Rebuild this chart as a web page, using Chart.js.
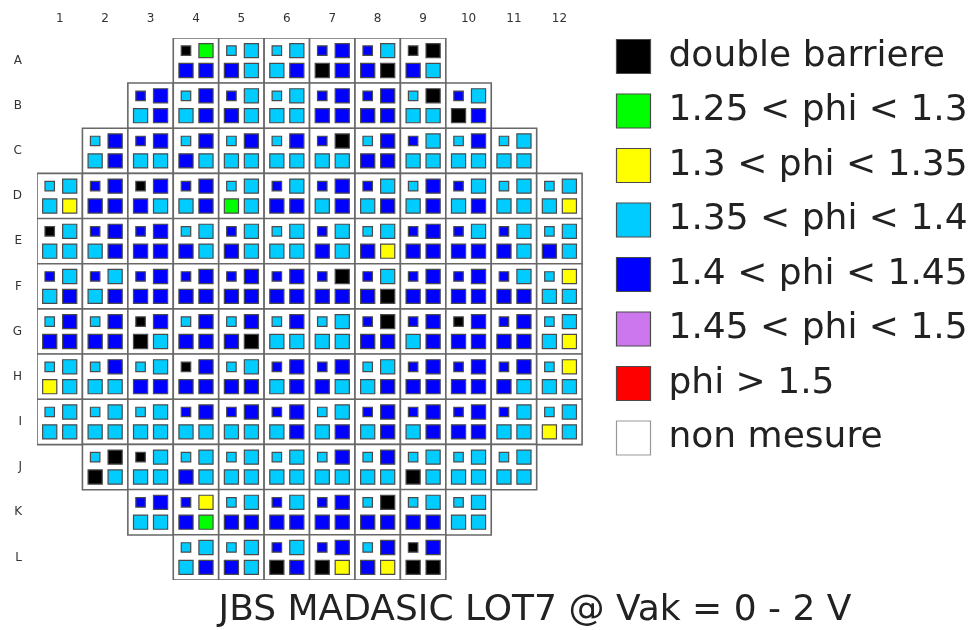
<!DOCTYPE html>
<html>
<head>
<meta charset="utf-8">
<script src="https://cdn.jsdelivr.net/npm/chart.js@4/dist/chart.umd.min.js"></script>
<style>
  html, body { margin: 0; padding: 0; background: #fff; }
  #wrap { width: 973px; height: 630px; }
</style>
</head>
<body>
<div id="wrap"><canvas id="c" width="973" height="630"></canvas></div>
<script>
// Wafer map: columns 1-12, rows A-L.
const colLabels = [1, 2, 3, 4, 5, 6, 7, 8, 9, 10, 11, 12];
const rowLabels = ['A', 'B', 'C', 'D', 'E', 'F', 'G', 'H', 'I', 'J', 'K', 'L'];
// first populated column of each row
const rowStart = [4, 3, 2, 1, 1, 1, 1, 1, 1, 2, 3, 4];

// Each string is one reticle: top-left (small die), top-right, bottom-left, bottom-right.
// K double barriere, G 1.25-1.3, Y 1.3-1.35, C 1.35-1.4, B 1.4-1.45, P 1.45-1.5, R >1.5, N non mesure
const rowA = ['KGBB', 'CCBC', 'CCCB', 'BBKB', 'BCBK', 'KKBC'];
const rowB = ['BBCB', 'CBCB', 'BCBC', 'CCCC', 'BBBB', 'BBBB', 'CKCC', 'BCKB'];
const rowC = ['CBCB', 'BBCC', 'CBBC', 'CBCC', 'CBCC', 'BKCC', 'CBBB', 'BCCC', 'CBCC', 'CCCC'];
const rowD = ['CCCY', 'BBBB', 'KBBC', 'BBCB', 'CCGC', 'BCBB', 'BBCB', 'BCCB', 'CBCB', 'BCCB', 'CCCC', 'CCCY'];
const rowE = ['KCCC', 'BBCB', 'BBBB', 'CCBC', 'BCBC', 'CCCC', 'BCBC', 'CCBY', 'BBBB', 'BCBB', 'BCBC', 'CCBC'];
const rowF = ['BCCB', 'BCCB', 'BBBB', 'BBBB', 'BBBB', 'BBBB', 'BKBB', 'BCBK', 'BBBB', 'BBBB', 'BCBB', 'CYCC'];
const rowG = ['CBBB', 'CBBB', 'KBKC', 'CBBB', 'CBBK', 'CBCC', 'CCCC', 'BKBB', 'BBCB', 'KBBB', 'BBBB', 'CCCY'];
const rowH = ['CCYC', 'CBCC', 'CCBB', 'KBBB', 'CCBB', 'BBCB', 'BBBC', 'CCCB', 'BBBB', 'BBBB', 'BBBC', 'CYCC'];
const rowI = ['CCCC', 'CCCC', 'CCCC', 'BBCC', 'BBCC', 'BBCB', 'CCCB', 'BBCB', 'BBCB', 'BBBB', 'BCCC', 'CCYC'];
const rowJ = ['CKKC', 'KCCC', 'CCBC', 'CCCC', 'CCCC', 'CBCC', 'CBCC', 'CCKC', 'CCCC', 'CCCC'];
const rowK = ['BBCC', 'BYBG', 'CCBB', 'BCBB', 'BBBB', 'CKBB', 'CCBB', 'CCCC'];
const rowL = ['CCCB', 'CCBC', 'BCKB', 'BBKY', 'CBBY', 'KBKK'];
const dieRows = [rowA, rowB, rowC, rowD, rowE, rowF, rowG, rowH, rowI, rowJ, rowK, rowL];

const categoryCodes = ['K', 'G', 'Y', 'C', 'B', 'P', 'R', 'N'];
const categoryNames = ['double barriere', '1.25 < phi < 1.3', '1.3 < phi < 1.35', '1.35 < phi < 1.4',
                       '1.4 < phi < 1.45', '1.45 < phi < 1.5', 'phi > 1.5', 'non mesure'];
const categoryColors = ['#000000', '#00ff00', '#ffff00', '#00ccff', '#0000ff', '#cc77ee', '#ff0000', '#ffffff'];

const chartTitle = 'JBS MADASIC LOT7 @ Vak = 0 - 2 V';

// die offsets inside a reticle, in axis units
const SUB = 0.22;
const quadrants = [[-SUB, -SUB, true], [SUB, -SUB, false], [-SUB, SUB, false], [SUB, SUB, false]];

const cellPoints = [];
const diePoints = categoryCodes.map(() => []);
dieRows.forEach((cells, r) => {
  cells.forEach((code, j) => {
    const col = rowStart[r] + j;
    const row = r + 1;
    cellPoints.push({ x: col, y: row });
    [...code].forEach((ch, q) => {
      const [dx, dy, small] = quadrants[q];
      diePoints[categoryCodes.indexOf(ch)].push({ x: col + dx, y: row + dy, small });
    });
  });
});

const dieDatasets = categoryCodes.map((code, k) => ({
  label: categoryNames[k],
  data: diePoints[k],
  pointStyle: 'rect',
  pointRadius: ctx => (ctx.raw && ctx.raw.small) ? 6.7 : 10,
  backgroundColor: categoryColors[k],
  borderColor: code === 'N' ? '#999999' : '#4a4a4a',
  borderWidth: 1.2,
  order: 0
}));

const cellDataset = {
  label: 'reticle',
  data: cellPoints,
  pointStyle: 'rect',
  // square side equals one axis unit
  pointRadius: ctx => {
    const s = ctx.chart.scales.x;
    return Math.abs(s.getPixelForValue(1) - s.getPixelForValue(0)) * Math.SQRT1_2;
  },
  backgroundColor: '#ffffff',
  borderColor: '#686868',
  borderWidth: 1.6,
  order: 1
};

const bottomTitle = {
  id: 'bottomTitle',
  afterDraw(chart) {
    const { ctx } = chart;
    ctx.save();
    ctx.font = '36px "DejaVu Sans"';
    ctx.fillStyle = '#222222';
    ctx.textAlign = 'center';
    ctx.textBaseline = 'middle';
    ctx.fillText(chartTitle, 535, 611);
    ctx.restore();
  }
};

new Chart(document.getElementById('c'), {
  type: 'scatter',
  data: { datasets: [...dieDatasets, cellDataset] },
  plugins: [bottomTitle],
  options: {
    responsive: false,
    animation: false,
    events: [],
    layout: { padding: { top: 0, bottom: 50, left: 0, right: 0 } },
    scales: {
      x: {
        type: 'linear',
        position: 'top',
        min: 0.5,
        max: 12.85,
        afterFit: s => { s.height = 38; },
        afterBuildTicks: s => { s.ticks = colLabels.map(v => ({ value: v })); },
        grid: { display: false, drawTicks: false },
        border: { display: false },
        ticks: {
          padding: 12,
          color: '#333333',
          font: { family: 'DejaVu Sans', size: 12 },
          callback: v => String(v)
        }
      },
      y: {
        type: 'linear',
        reverse: true,
        min: 0.5,
        max: 12.5,
        afterFit: s => { s.width = 37; },
        afterBuildTicks: s => { s.ticks = rowLabels.map((_, i) => ({ value: i + 1 })); },
        grid: { display: false, drawTicks: false },
        border: { display: false },
        ticks: {
          padding: 15,
          color: '#333333',
          font: { family: 'DejaVu Sans', size: 12 },
          callback: v => rowLabels[v - 1]
        }
      }
    },
    plugins: {
      tooltip: { enabled: false },
      title: { display: false },
      legend: {
        position: 'right',
        align: 'start',
        maxWidth: 375,
        title: { display: true, text: '', padding: { top: 8, bottom: 0 }, font: { size: 10 } },
        labels: {
          filter: item => item.text !== 'reticle',
          boxWidth: 34,
          boxHeight: 34,
          padding: 18.5,
          color: '#222222',
          font: { family: 'DejaVu Sans', size: 36 }
        }
      }
    }
  }
});
</script>
</body>
</html>
